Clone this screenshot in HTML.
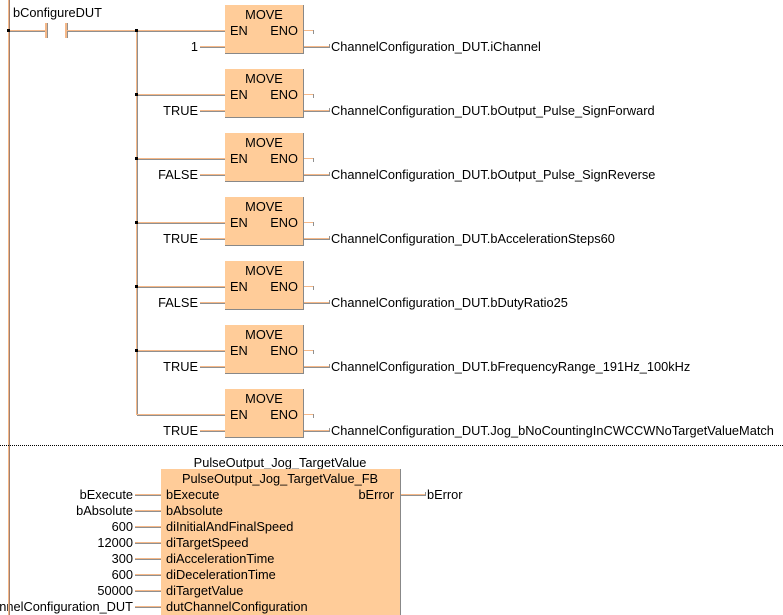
<!DOCTYPE html>
<html><head><meta charset="utf-8"><style>
html,body{margin:0;padding:0;background:#fff;}
svg{display:block;}
text{font-family:"Liberation Sans",sans-serif;font-size:12.8px;fill:#000;}
</style></head><body>
<svg width="783" height="615" viewBox="0 0 783 615" xmlns="http://www.w3.org/2000/svg" shape-rendering="crispEdges">
<defs>
<g id="blk">
  <rect x="225" y="5" width="79" height="49" fill="#FFCC99"/>
  <line x1="303.5" y1="5" x2="303.5" y2="54" stroke="#888" stroke-width="1"/>
  <line x1="225" y1="53.5" x2="304" y2="53.5" stroke="#888" stroke-width="1"/>
  <text x="264" y="19" text-anchor="middle">MOVE</text>
  <text x="230" y="35">EN</text>
  <text x="298" y="35" text-anchor="end">ENO</text>
  <line x1="136" y1="30.5" x2="225" y2="30.5" stroke="#F5B888"/>
  <line x1="137" y1="31.5" x2="225" y2="31.5" stroke="#909090"/>
  <line x1="200" y1="46.5" x2="225" y2="46.5" stroke="#F5B888"/>
  <line x1="200" y1="47.5" x2="225" y2="47.5" stroke="#909090"/>
  <line x1="304" y1="30.5" x2="313" y2="30.5" stroke="#F5B888"/>
  <line x1="313.5" y1="30" x2="313.5" y2="34" stroke="#909090"/>
  <line x1="304" y1="46.5" x2="330" y2="46.5" stroke="#F5B888"/>
  <line x1="304" y1="47.5" x2="329" y2="47.5" stroke="#909090"/>
  <line x1="329.5" y1="44" x2="329.5" y2="48" stroke="#909090"/>
</g>
</defs>

<line x1="8.5" y1="0" x2="8.5" y2="615" stroke="#F5B888"/>
<line x1="9.5" y1="0" x2="9.5" y2="615" stroke="#A08070"/>

<text x="13" y="17">bConfigureDUT</text>
<line x1="8" y1="30.5" x2="45" y2="30.5" stroke="#F5B888"/>
<line x1="9" y1="31.5" x2="45" y2="31.5" stroke="#909090"/>
<rect x="45" y="23" width="2" height="15" fill="#F5B888"/>
<rect x="47" y="23" width="1" height="15" fill="#909090"/>
<rect x="65" y="23" width="2" height="15" fill="#F5B888"/>
<rect x="67" y="23" width="1" height="15" fill="#909090"/>
<line x1="67" y1="30.5" x2="137" y2="30.5" stroke="#F5B888"/>
<line x1="68" y1="31.5" x2="137" y2="31.5" stroke="#909090"/>
<rect x="7" y="29" width="3" height="3" fill="#000"/>

<line x1="136.5" y1="30" x2="136.5" y2="415" stroke="#F5B888"/>
<line x1="137.5" y1="31" x2="137.5" y2="416" stroke="#909090"/>

<use href="#blk" transform="translate(0,0)"/>
<use href="#blk" transform="translate(0,64)"/>
<use href="#blk" transform="translate(0,128)"/>
<use href="#blk" transform="translate(0,192)"/>
<use href="#blk" transform="translate(0,256)"/>
<use href="#blk" transform="translate(0,320)"/>
<use href="#blk" transform="translate(0,384)"/>

<rect x="135" y="29" width="3" height="3" fill="#000"/>
<rect x="135" y="93" width="3" height="3" fill="#000"/>
<rect x="135" y="157" width="3" height="3" fill="#000"/>
<rect x="135" y="221" width="3" height="3" fill="#000"/>
<rect x="135" y="285" width="3" height="3" fill="#000"/>
<rect x="135" y="349" width="3" height="3" fill="#000"/>

<text x="198" y="51" text-anchor="end">1</text>
<text x="198" y="115" text-anchor="end">TRUE</text>
<text x="198" y="179" text-anchor="end">FALSE</text>
<text x="198" y="243" text-anchor="end">TRUE</text>
<text x="198" y="307" text-anchor="end">FALSE</text>
<text x="198" y="371" text-anchor="end">TRUE</text>
<text x="198" y="435" text-anchor="end">TRUE</text>

<text x="331" y="51">ChannelConfiguration_DUT.iChannel</text>
<text x="331" y="115">ChannelConfiguration_DUT.bOutput_Pulse_SignForward</text>
<text x="331" y="179">ChannelConfiguration_DUT.bOutput_Pulse_SignReverse</text>
<text x="331" y="243">ChannelConfiguration_DUT.bAccelerationSteps60</text>
<text x="331" y="307">ChannelConfiguration_DUT.bDutyRatio25</text>
<text x="331" y="371">ChannelConfiguration_DUT.bFrequencyRange_191Hz_100kHz</text>
<text x="331" y="435">ChannelConfiguration_DUT.Jog_bNoCountingInCWCCWNoTargetValueMatch</text>

<line x1="0" y1="445.5" x2="783" y2="445.5" stroke="#000" stroke-dasharray="1,1"/>

<text x="280" y="467" text-anchor="middle">PulseOutput_Jog_TargetValue</text>
<rect x="161" y="469" width="240" height="150" fill="#FFCC99"/>
<line x1="400.5" y1="469" x2="400.5" y2="615" stroke="#888"/>
<text x="280" y="483" text-anchor="middle">PulseOutput_Jog_TargetValue_FB</text>

<g>
<line x1="135" y1="494.5" x2="161" y2="494.5" stroke="#F5B888"/><line x1="135" y1="495.5" x2="161" y2="495.5" stroke="#909090"/>
<line x1="135" y1="510.5" x2="161" y2="510.5" stroke="#F5B888"/><line x1="135" y1="511.5" x2="161" y2="511.5" stroke="#909090"/>
<line x1="135" y1="526.5" x2="161" y2="526.5" stroke="#F5B888"/><line x1="135" y1="527.5" x2="161" y2="527.5" stroke="#909090"/>
<line x1="135" y1="542.5" x2="161" y2="542.5" stroke="#F5B888"/><line x1="135" y1="543.5" x2="161" y2="543.5" stroke="#909090"/>
<line x1="135" y1="558.5" x2="161" y2="558.5" stroke="#F5B888"/><line x1="135" y1="559.5" x2="161" y2="559.5" stroke="#909090"/>
<line x1="135" y1="574.5" x2="161" y2="574.5" stroke="#F5B888"/><line x1="135" y1="575.5" x2="161" y2="575.5" stroke="#909090"/>
<line x1="135" y1="590.5" x2="161" y2="590.5" stroke="#F5B888"/><line x1="135" y1="591.5" x2="161" y2="591.5" stroke="#909090"/>
<line x1="135" y1="606.5" x2="161" y2="606.5" stroke="#F5B888"/><line x1="135" y1="607.5" x2="161" y2="607.5" stroke="#909090"/>
</g>

<text x="133" y="499" text-anchor="end">bExecute</text>
<text x="133" y="515" text-anchor="end">bAbsolute</text>
<text x="133" y="531" text-anchor="end">600</text>
<text x="133" y="547" text-anchor="end">12000</text>
<text x="133" y="563" text-anchor="end">300</text>
<text x="133" y="579" text-anchor="end">600</text>
<text x="133" y="595" text-anchor="end">50000</text>
<text x="133" y="611" text-anchor="end">ChannelConfiguration_DUT</text>

<text x="166" y="499">bExecute</text>
<text x="166" y="515">bAbsolute</text>
<text x="166" y="531">diInitialAndFinalSpeed</text>
<text x="166" y="547">diTargetSpeed</text>
<text x="166" y="563">diAccelerationTime</text>
<text x="166" y="579">diDecelerationTime</text>
<text x="166" y="595">diTargetValue</text>
<text x="166" y="611">dutChannelConfiguration</text>

<text x="394" y="499" text-anchor="end">bError</text>
<line x1="401" y1="494.5" x2="426" y2="494.5" stroke="#F5B888"/>
<line x1="401" y1="495.5" x2="425" y2="495.5" stroke="#909090"/>
<line x1="425.5" y1="492" x2="425.5" y2="496" stroke="#909090"/>
<text x="427" y="499">bError</text>

<line x1="8.5" y1="596" x2="8.5" y2="615" stroke="#F5B888"/>
<line x1="9.5" y1="596" x2="9.5" y2="615" stroke="#A08070"/>
</svg>
</body></html>
